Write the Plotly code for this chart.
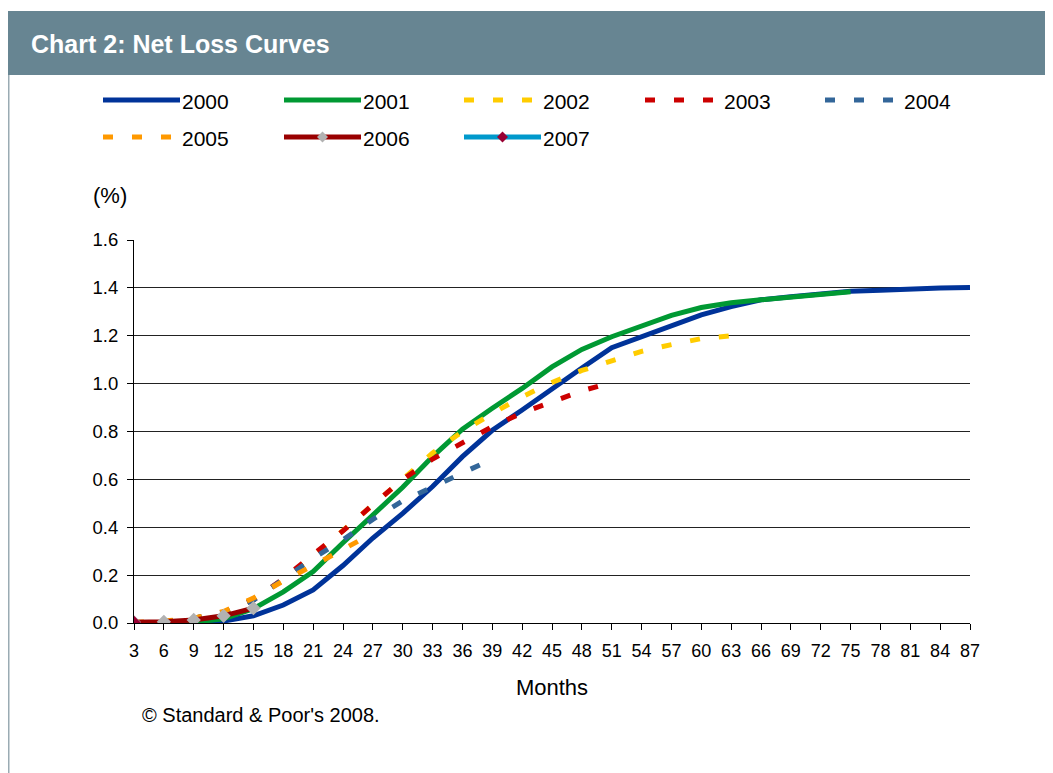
import plotly.graph_objects as go

months = list(range(3, 90, 3))  # 3..87

s2000 = [0, 0, 0, 0.008, 0.03, 0.075, 0.138, 0.24, 0.355, 0.458, 0.57, 0.695, 0.805, 0.89,
         0.98, 1.065, 1.15, 1.195, 1.245, 1.287, 1.322, 1.35, 1.363, 1.376, 1.386, 1.39,
         1.396, 1.40, 1.402]
s2001 = [0, 0, 0.003, 0.018, 0.06, 0.13, 0.215, 0.335, 0.45, 0.567, 0.695, 0.81, 0.897,
         0.98, 1.07, 1.143, 1.196, 1.24, 1.285, 1.318, 1.338, 1.35, 1.363, 1.374, 1.384]
s2002 = [0, 0.005, 0.02, 0.045, 0.10, 0.18, 0.28, 0.385, 0.49, 0.60, 0.71, 0.80, 0.875,
         0.945, 1.005, 1.055, 1.095, 1.135, 1.163, 1.188, 1.20]
s2003 = [0, 0.005, 0.02, 0.045, 0.096, 0.185, 0.286, 0.385, 0.494, 0.60, 0.685, 0.755,
         0.82, 0.878, 0.923, 0.97, 1.005]
s2004 = [0, 0.005, 0.02, 0.045, 0.095, 0.18, 0.27, 0.348, 0.433, 0.51, 0.57, 0.63, 0.685]
s2005 = [0.003, 0.008, 0.02, 0.048, 0.104, 0.176, 0.24, 0.31, 0.375]
s2006 = [0.003, 0.005, 0.013, 0.03, 0.062]
s2007 = [0.0]

series_names = ["2000", "2001", "2002", "2003", "2004", "2005", "2006", "2007"]
series_vals = [s2000, s2001, s2002, s2003, s2004, s2005, s2006, s2007]
colors = ["#003399", "#009933", "#FFCC00", "#CC0000", "#336699", "#FF9900", "#990000", "#0099CC"]
dashes = ["solid", "solid", "10px,19px", "10px,19px", "10px,19px", "10px,19px", "solid", "solid"]
marker_colors = [None, None, None, None, None, None, "#B2B2B2", "#990033"]

y_ticks = [0.0, 0.2, 0.4, 0.6, 0.8, 1.0, 1.2, 1.4, 1.6]

FONT = "Liberation Sans, Arial, sans-serif"
OFF = 8  # page body margin
W, H = 1053 - OFF, 773 - OFF
L, R, T, B = 134, 970, 240, 623  # plot area in page pixels


def px(x):
    return (x - L) / (R - L)


def py(y):
    return (B - y) / (B - T)


fig = go.Figure()
for name, vals, c, d, mc in zip(series_names, series_vals, colors, dashes, marker_colors):
    fig.add_trace(go.Scatter(
        x=months[:len(vals)], y=vals, name=name,
        mode="lines+markers" if mc else "lines",
        line=dict(color=c, width=5, dash=d),
        marker=dict(symbol="diamond", size=11, color=mc) if mc else None,
        showlegend=False,
    ))

shapes = []
annotations = []

# title bar & left border
shapes.append(dict(type="rect", xref="paper", yref="paper", x0=px(8), x1=px(1060),
                   y0=py(75), y1=py(11), fillcolor="#678592", line=dict(width=0), layer="below"))
shapes.append(dict(type="line", xref="paper", yref="paper", x0=px(8.5), x1=px(8.5),
                   y0=py(780), y1=py(75), line=dict(color="#9AABB3", width=2)))
annotations.append(dict(xref="paper", yref="paper", x=px(29), y=py(44), xanchor="left",
                        yanchor="middle", showarrow=False, text="<b>Chart 2: Net Loss Curves</b>",
                        font=dict(family=FONT, size=25, color="white")))

# custom legend
leg_x = [103, 284, 464, 645, 825, 103, 284, 464]
leg_y = [100, 100, 100, 100, 100, 137, 137, 137]
for i, name in enumerate(series_names):
    x0, yy = leg_x[i], leg_y[i]
    shapes.append(dict(type="line", xref="paper", yref="paper", x0=px(x0), x1=px(x0 + 77),
                       y0=py(yy), y1=py(yy),
                       line=dict(color=colors[i], width=5, dash=dashes[i])))
    if marker_colors[i]:
        cx = x0 + 38.5
        r = 5.5
        path = (f"M{px(cx - r)},{py(yy)} L{px(cx)},{py(yy - r)} "
                f"L{px(cx + r)},{py(yy)} L{px(cx)},{py(yy + r)} Z")
        shapes.append(dict(type="path", xref="paper", yref="paper", path=path,
                           fillcolor=marker_colors[i], line=dict(width=0)))
    annotations.append(dict(xref="paper", yref="paper", x=px(x0 + 77), y=py(yy + 1), xanchor="left",
                            yanchor="middle", showarrow=False, text=name,
                            font=dict(family=FONT, size=21, color="black")))

annotations.append(dict(xref="paper", yref="paper", x=px(110), y=py(195), xanchor="center",
                        yanchor="middle", showarrow=False, text="(%)",
                        font=dict(family=FONT, size=22, color="black")))
annotations.append(dict(xref="paper", yref="paper", x=px(140), y=py(715), xanchor="left",
                        yanchor="middle", showarrow=False, text="© Standard & Poor's 2008.",
                        font=dict(family=FONT, size=20, color="black")))

fig.update_layout(
    width=W, height=H,
    margin=dict(l=L - OFF, r=W - (R - OFF), t=T - OFF, b=H - (B - OFF), pad=0),
    paper_bgcolor="white", plot_bgcolor="white",
    font=dict(family=FONT, size=18, color="black"),
    shapes=shapes, annotations=annotations,
    showlegend=False,
    xaxis=dict(range=[3, 87], tickvals=months, ticktext=[str(m) for m in months],
               showgrid=False, zeroline=False, showline=True, linecolor="black", linewidth=1,
               ticks="outside", ticklen=6, tickcolor="black", ticklabelstandoff=5,
               title=dict(text="Months", font=dict(family=FONT, size=22), standoff=20),
               tickfont=dict(family=FONT, size=18)),
    yaxis=dict(range=[0, 1.6], tickvals=y_ticks, ticktext=[f"{v:.1f}" for v in y_ticks],
               showgrid=True, gridcolor="#222222", gridwidth=1, zeroline=False,
               showline=True, linecolor="black", linewidth=1,
               ticks="outside", ticklen=6, tickcolor="black", ticklabelstandoff=5,
               tickfont=dict(family=FONT, size=18.5)),
)

fig.write_html("out.html")
